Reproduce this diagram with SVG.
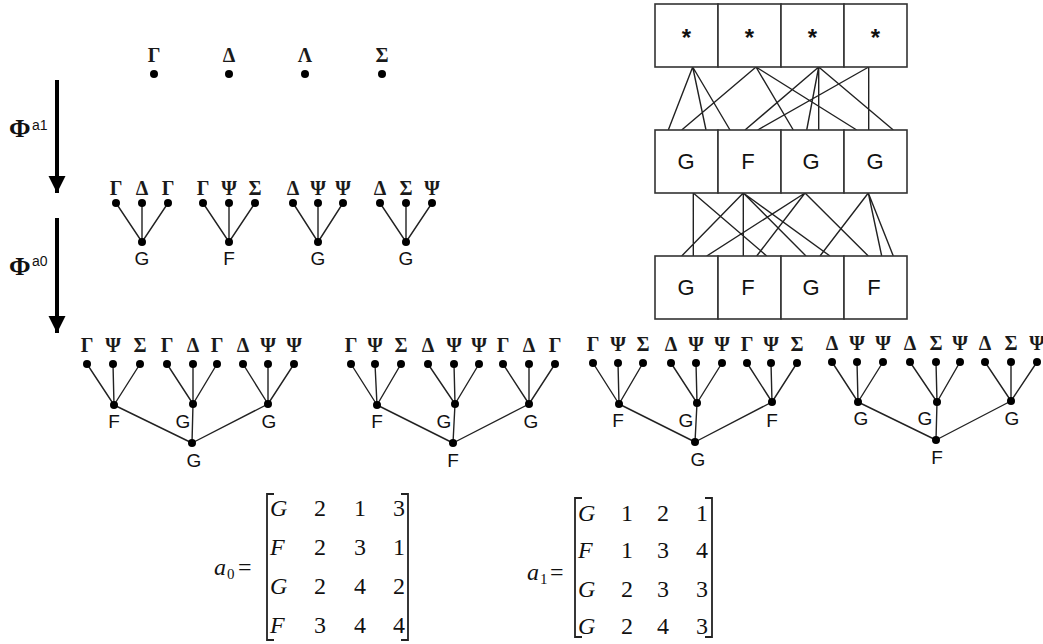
<svg xmlns="http://www.w3.org/2000/svg" width="1043" height="644" viewBox="0 0 1043 644">
  <style>
    .greek { font-family: "Liberation Serif", "Times New Roman", serif; font-size: 20px; font-weight: bold; fill: #1a1a1a; text-anchor: middle; }
    .lbl { font-family: "Liberation Sans", Arial, sans-serif; font-size: 19px; fill: #111; text-anchor: middle; }
    .cell { font-family: "Liberation Sans", Arial, sans-serif; font-size: 22px; fill: #111; text-anchor: middle; }
    .star { font-family: "Liberation Sans", Arial, sans-serif; font-size: 24px; font-weight: bold; fill: #111; text-anchor: middle; }
    .phi { font-family: "Liberation Serif", "Times New Roman", serif; font-size: 26px; font-weight: bold; fill: #111; }
    .sup { font-family: "Liberation Sans", Arial, sans-serif; font-size: 14px; fill: #111; }
    .mat { font-family: "Liberation Serif", "Times New Roman", serif; font-size: 24px; fill: #111; }
    .sub { font-family: "Liberation Serif", "Times New Roman", serif; font-size: 15px; fill: #111; }
    .eq { font-family: "Liberation Serif", "Times New Roman", serif; font-size: 24px; fill: #111; }
    .mi { font-style: italic; }
    .edge { stroke: #222; stroke-width: 1.4; fill: none; }
    .box { stroke: #333; stroke-width: 1.6; fill: #fff; }
    .brk { stroke: #222; stroke-width: 1.8; fill: none; }
    .dot { fill: #000; }
  </style>
  <defs>
    <marker id="head" viewBox="0 0 10 10" refX="10" refY="5" markerWidth="4.3" markerHeight="4.3" markerUnits="strokeWidth" orient="auto">
      <path d="M0,0 L10,5 L0,10 z" fill="#000"/>
    </marker>
  </defs>
  <rect width="1043" height="644" fill="#fff"/>

  <!-- mapping arrows -->
  <g id="arrows">
    <line x1="57" y1="80" x2="57" y2="193" stroke="#000" stroke-width="4" marker-end="url(#head)"/>
    <text class="phi" x="9" y="137">Φ</text><text class="sup" x="32" y="130">a1</text>
    <line x1="57" y1="218" x2="57" y2="333" stroke="#000" stroke-width="4" marker-end="url(#head)"/>
    <text class="phi" x="9" y="275">Φ</text><text class="sup" x="32" y="266">a0</text>
  </g>

  <!-- level 0: terminals -->
  <g id="terminals">
    <text class="greek" x="154" y="62">Γ</text><circle class="dot" cx="154" cy="74" r="4"/>
    <text class="greek" x="229" y="62">Δ</text><circle class="dot" cx="229" cy="74" r="4"/>
    <text class="greek" x="305" y="62">Λ</text><circle class="dot" cx="305" cy="74" r="4"/>
    <text class="greek" x="382" y="62">Σ</text><circle class="dot" cx="382" cy="74" r="4"/>
  </g>

  <!-- level 1: small trees -->
  <g id="level1">
    <g class="edge">
      <path d="M116,203 L142,242 M142,203 L142,242 M168,203 L142,242"/>
      <path d="M203,203 L229,242 M229,203 L229,242 M255,203 L229,242"/>
      <path d="M293,203 L318,242 M318,203 L318,242 M343,203 L318,242"/>
      <path d="M380,203 L406,242 M406,203 L406,242 M432,203 L406,242"/>
    </g>
    <g class="dot">
      <circle cx="116" cy="203" r="4"/><circle cx="142" cy="203" r="4"/><circle cx="168" cy="203" r="4"/><circle cx="142" cy="242" r="4"/>
      <circle cx="203" cy="203" r="4"/><circle cx="229" cy="203" r="4"/><circle cx="255" cy="203" r="4"/><circle cx="229" cy="242" r="4"/>
      <circle cx="293" cy="203" r="4"/><circle cx="318" cy="203" r="4"/><circle cx="343" cy="203" r="4"/><circle cx="318" cy="242" r="4"/>
      <circle cx="380" cy="203" r="4"/><circle cx="406" cy="203" r="4"/><circle cx="432" cy="203" r="4"/><circle cx="406" cy="242" r="4"/>
    </g>
    <text class="greek" x="116" y="195">Γ</text><text class="greek" x="142" y="195">Δ</text><text class="greek" x="168" y="195">Γ</text>
    <text class="greek" x="203" y="195">Γ</text><text class="greek" x="229" y="195">Ψ</text><text class="greek" x="255" y="195">Σ</text>
    <text class="greek" x="293" y="195">Δ</text><text class="greek" x="318" y="195">Ψ</text><text class="greek" x="343" y="195">Ψ</text>
    <text class="greek" x="380" y="195">Δ</text><text class="greek" x="406" y="195">Σ</text><text class="greek" x="432" y="195">Ψ</text>
    <text class="lbl" x="142" y="265">G</text><text class="lbl" x="229" y="265">F</text>
    <text class="lbl" x="318" y="265">G</text><text class="lbl" x="406" y="265">G</text>
  </g>

  <!-- level 2: composed trees -->
  <g id="tree1">
    <path class="edge" d="M87,364 L114,405 M113,364 L114,405 M140,364 L114,405 M167,364 L193,404 M193,364 L193,404 M217,364 L193,404 M243,364 L268,404 M268,364 L268,404 M294,364 L268,404 M114,405 L192,443 M193,404 L192,443 M268,404 L192,443"/>
    <g class="dot">
      <circle cx="87" cy="364" r="4"/><circle cx="113" cy="364" r="4"/><circle cx="140" cy="364" r="4"/>
      <circle cx="167" cy="364" r="4"/><circle cx="193" cy="364" r="4"/><circle cx="217" cy="364" r="4"/>
      <circle cx="243" cy="364" r="4"/><circle cx="268" cy="364" r="4"/><circle cx="294" cy="364" r="4"/>
      <circle cx="114" cy="405" r="4"/><circle cx="193" cy="404" r="4"/><circle cx="268" cy="404" r="4"/><circle cx="192" cy="443" r="4"/>
    </g>
    <text class="greek" x="87" y="352">Γ</text><text class="greek" x="113" y="352">Ψ</text><text class="greek" x="140" y="352">Σ</text>
    <text class="greek" x="167" y="352">Γ</text><text class="greek" x="193" y="352">Δ</text><text class="greek" x="217" y="352">Γ</text>
    <text class="greek" x="243" y="352">Δ</text><text class="greek" x="268" y="352">Ψ</text><text class="greek" x="294" y="352">Ψ</text>
    <text class="lbl" x="114" y="428">F</text><text class="lbl" x="183" y="428">G</text><text class="lbl" x="269" y="428">G</text>
    <text class="lbl" x="194" y="467">G</text>
  </g>

  <g id="tree2">
    <path class="edge" d="M351,364 L377,405 M375,364 L377,405 M401,364 L377,405 M428,364 L455,404 M454,364 L455,404 M479,364 L455,404 M503,364 L529,404 M529,364 L529,404 M555,364 L529,404 M377,405 L453,443 M455,404 L453,443 M529,404 L453,443"/>
    <g class="dot">
      <circle cx="351" cy="364" r="4"/><circle cx="375" cy="364" r="4"/><circle cx="401" cy="364" r="4"/>
      <circle cx="428" cy="364" r="4"/><circle cx="454" cy="364" r="4"/><circle cx="479" cy="364" r="4"/>
      <circle cx="503" cy="364" r="4"/><circle cx="529" cy="364" r="4"/><circle cx="555" cy="364" r="4"/>
      <circle cx="377" cy="405" r="4"/><circle cx="455" cy="404" r="4"/><circle cx="529" cy="404" r="4"/><circle cx="453" cy="443" r="4"/>
    </g>
    <text class="greek" x="351" y="352">Γ</text><text class="greek" x="375" y="352">Ψ</text><text class="greek" x="401" y="352">Σ</text>
    <text class="greek" x="428" y="352">Δ</text><text class="greek" x="454" y="352">Ψ</text><text class="greek" x="479" y="352">Ψ</text>
    <text class="greek" x="503" y="352">Γ</text><text class="greek" x="529" y="352">Δ</text><text class="greek" x="555" y="352">Γ</text>
    <text class="lbl" x="377" y="428">F</text><text class="lbl" x="444" y="428">G</text><text class="lbl" x="531" y="428">G</text>
    <text class="lbl" x="453" y="467">F</text>
  </g>

  <g id="tree3">
    <path class="edge" d="M593,363 L619,404 M618,363 L619,404 M643,363 L619,404 M671,363 L697,403 M696,363 L697,403 M722,363 L697,403 M747,363 L772,402 M771,363 L772,402 M797,363 L772,402 M619,404 L695,442 M697,403 L695,442 M772,402 L695,442"/>
    <g class="dot">
      <circle cx="593" cy="363" r="4"/><circle cx="618" cy="363" r="4"/><circle cx="643" cy="363" r="4"/>
      <circle cx="671" cy="363" r="4"/><circle cx="696" cy="363" r="4"/><circle cx="722" cy="363" r="4"/>
      <circle cx="747" cy="363" r="4"/><circle cx="771" cy="363" r="4"/><circle cx="797" cy="363" r="4"/>
      <circle cx="619" cy="404" r="4"/><circle cx="697" cy="403" r="4"/><circle cx="772" cy="402" r="4"/><circle cx="695" cy="442" r="4"/>
    </g>
    <text class="greek" x="593" y="351">Γ</text><text class="greek" x="618" y="351">Ψ</text><text class="greek" x="643" y="351">Σ</text>
    <text class="greek" x="671" y="351">Δ</text><text class="greek" x="696" y="351">Ψ</text><text class="greek" x="722" y="351">Ψ</text>
    <text class="greek" x="747" y="351">Γ</text><text class="greek" x="771" y="351">Ψ</text><text class="greek" x="797" y="351">Σ</text>
    <text class="lbl" x="618" y="427">F</text><text class="lbl" x="686" y="427">G</text><text class="lbl" x="772" y="427">F</text>
    <text class="lbl" x="698" y="466">G</text>
  </g>

  <g id="tree4">
    <path class="edge" d="M832,362 L858,402 M857,362 L858,402 M883,362 L858,402 M910,362 L937,402 M936,362 L937,402 M960,362 L937,402 M985,362 L1011,401 M1011,362 L1011,401 M1037,362 L1011,401 M858,402 L936,440 M937,402 L936,440 M1011,401 L936,440"/>
    <g class="dot">
      <circle cx="832" cy="362" r="4"/><circle cx="857" cy="362" r="4"/><circle cx="883" cy="362" r="4"/>
      <circle cx="910" cy="362" r="4"/><circle cx="936" cy="362" r="4"/><circle cx="960" cy="362" r="4"/>
      <circle cx="985" cy="362" r="4"/><circle cx="1011" cy="362" r="4"/><circle cx="1037" cy="362" r="4"/>
      <circle cx="858" cy="402" r="4"/><circle cx="937" cy="402" r="4"/><circle cx="1011" cy="401" r="4"/><circle cx="936" cy="440" r="4"/>
    </g>
    <text class="greek" x="832" y="350">Δ</text><text class="greek" x="857" y="350">Ψ</text><text class="greek" x="883" y="350">Ψ</text>
    <text class="greek" x="910" y="350">Δ</text><text class="greek" x="936" y="350">Σ</text><text class="greek" x="960" y="350">Ψ</text>
    <text class="greek" x="985" y="350">Δ</text><text class="greek" x="1011" y="350">Σ</text><text class="greek" x="1037" y="350">Ψ</text>
    <text class="lbl" x="861" y="425">G</text><text class="lbl" x="925" y="425">G</text><text class="lbl" x="1012" y="425">G</text>
    <text class="lbl" x="937" y="464">F</text>
  </g>

  <!-- array representation: three rows of four cells with child links -->
  <g id="links">
    <path class="edge" d="M692.7,67 L668.3,130 M692.7,67 L706,130 M692.7,67 L730,130
      M756,67 L681.7,130 M756,67 L793.3,130 M756,67 L856.7,130
      M818.7,67 L745,130 M818.7,67 L806.7,130 M818.7,67 L818.7,130 M818.7,67 L893.3,130
      M868.7,67 L757.7,130 M868.7,67 L868.7,130"/>
    <path class="edge" d="M743.3,193 L681.7,256 M693.3,193 L693.3,256 M805,193 L706.7,256
      M743.3,193 L743.3,256 M805,193 L756.7,256 M693.3,193 L766.7,256
      M743.3,193 L806,256 M868.3,193 L820,256 M743.3,193 L830,256
      M805,193 L868.3,256 M868.3,193 L881.7,256 M868.3,193 L893.3,256"/>
  </g>
  <g id="row-top">
    <rect class="box" x="655" y="4" width="63" height="63"/><rect class="box" x="718" y="4" width="63" height="63"/>
    <rect class="box" x="781" y="4" width="63" height="63"/><rect class="box" x="844" y="4" width="63" height="63"/>
    <text class="star" x="686.5" y="46">*</text><text class="star" x="749.5" y="46">*</text>
    <text class="star" x="812.5" y="46">*</text><text class="star" x="875.5" y="46">*</text>
  </g>
  <g id="row-mid">
    <rect class="box" x="655" y="130" width="63" height="63"/><rect class="box" x="718" y="130" width="63" height="63"/>
    <rect class="box" x="781" y="130" width="63" height="63"/><rect class="box" x="844" y="130" width="63" height="63"/>
    <text class="cell" x="686" y="169">G</text><text class="cell" x="748" y="169">F</text>
    <text class="cell" x="811" y="169">G</text><text class="cell" x="875" y="169">G</text>
  </g>
  <g id="row-bottom">
    <rect class="box" x="655" y="256" width="63" height="63"/><rect class="box" x="718" y="256" width="63" height="63"/>
    <rect class="box" x="781" y="256" width="63" height="63"/><rect class="box" x="844" y="256" width="63" height="63"/>
    <text class="cell" x="686" y="295">G</text><text class="cell" x="748" y="295">F</text>
    <text class="cell" x="811" y="295">G</text><text class="cell" x="874" y="295">F</text>
  </g>

  <!-- matrix a0 -->
  <g id="matrix-a0">
    <text class="mat mi" x="214" y="575">a</text><text class="sub" x="227" y="579">0</text>
    <text class="eq" x="238" y="575">=</text>
    <path class="brk" d="M274,494 L267,494 L267,640 L274,640 M401,494 L408,494 L408,640 L401,640"/>
    <g class="mat">
      <text x="270" y="516" class="mi">G</text><text x="320" y="516" text-anchor="middle">2</text><text x="360" y="516" text-anchor="middle">1</text><text x="399" y="516" text-anchor="middle">3</text>
      <text x="270" y="555" class="mi">F</text><text x="320" y="555" text-anchor="middle">2</text><text x="360" y="555" text-anchor="middle">3</text><text x="399" y="555" text-anchor="middle">1</text>
      <text x="270" y="594" class="mi">G</text><text x="320" y="594" text-anchor="middle">2</text><text x="360" y="594" text-anchor="middle">4</text><text x="399" y="594" text-anchor="middle">2</text>
      <text x="270" y="633" class="mi">F</text><text x="320" y="633" text-anchor="middle">3</text><text x="360" y="633" text-anchor="middle">4</text><text x="399" y="633" text-anchor="middle">4</text>
    </g>
  </g>

  <!-- matrix a1 -->
  <g id="matrix-a1">
    <text class="mat mi" x="527" y="580">a</text><text class="sub" x="540" y="584">1</text>
    <text class="eq" x="550" y="580">=</text>
    <path class="brk" d="M582,498 L575,498 L575,637 L582,637 M705,498 L712,498 L712,637 L705,637"/>
    <g class="mat">
      <text x="578" y="521" class="mi">G</text><text x="627" y="521" text-anchor="middle">1</text><text x="663" y="521" text-anchor="middle">2</text><text x="702" y="521" text-anchor="middle">1</text>
      <text x="578" y="558" class="mi">F</text><text x="627" y="558" text-anchor="middle">1</text><text x="663" y="558" text-anchor="middle">3</text><text x="702" y="558" text-anchor="middle">4</text>
      <text x="578" y="597" class="mi">G</text><text x="627" y="597" text-anchor="middle">2</text><text x="663" y="597" text-anchor="middle">3</text><text x="702" y="597" text-anchor="middle">3</text>
      <text x="578" y="634" class="mi">G</text><text x="627" y="634" text-anchor="middle">2</text><text x="663" y="634" text-anchor="middle">4</text><text x="702" y="634" text-anchor="middle">3</text>
    </g>
  </g>
</svg>
